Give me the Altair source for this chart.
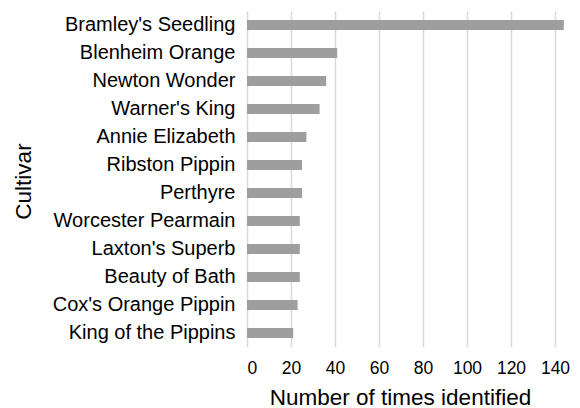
import altair as alt
import pandas as pd

cultivars = ["Bramley's Seedling", "Blenheim Orange", "Newton Wonder", "Warner's King",
             "Annie Elizabeth", "Ribston Pippin", "Perthyre", "Worcester Pearmain",
             "Laxton's Superb", "Beauty of Bath", "Cox's Orange Pippin", "King of the Pippins"]
counts = [144, 41, 36, 33, 27, 25, 25, 24, 24, 24, 23, 21]
x_ticks = [0, 20, 40, 60, 80, 100, 120, 140]

df = pd.DataFrame({"Cultivar": cultivars, "Count": counts})

FONT = "Liberation Sans"

chart = alt.Chart(df).mark_bar(color="#9e9e9e").encode(
    x=alt.X("Count:Q", scale=alt.Scale(domain=[0, 145], nice=False),
            axis=alt.Axis(title="Number of times identified", values=x_ticks,
                          grid=True, gridColor="#d9d9d9", gridWidth=1.5,
                          domain=False, ticks=False, labelPadding=12,
                          labelFontSize=17.5, titleFontSize=22.5,
                          titleX=153, titleY=39,
                          labelColor="#000000", titleColor="#000000",
                          labelFont=FONT, titleFont=FONT, titleFontWeight="normal")),
    y=alt.Y("Cultivar:N", sort=cultivars,
            scale=alt.Scale(paddingInner=0.64, paddingOuter=0.32),
            axis=alt.Axis(title="Cultivar", domain=False, ticks=False, labelPadding=12,
                          labelFontSize=20, titleFontSize=22.5, labelLimit=400,
                          titleX=-212, titleY=170,
                          labelColor="#000000", titleColor="#000000",
                          labelFont=FONT, titleFont=FONT, titleFontWeight="normal")),
).properties(
    width=319, height=336,
    autosize=alt.AutoSizeParams(type="none"),
    padding={"left": 239, "top": 3, "right": 5, "bottom": 80},
).configure_view(stroke=None)

chart.save("out.html", embed_options={"renderer": "svg", "actions": False})
